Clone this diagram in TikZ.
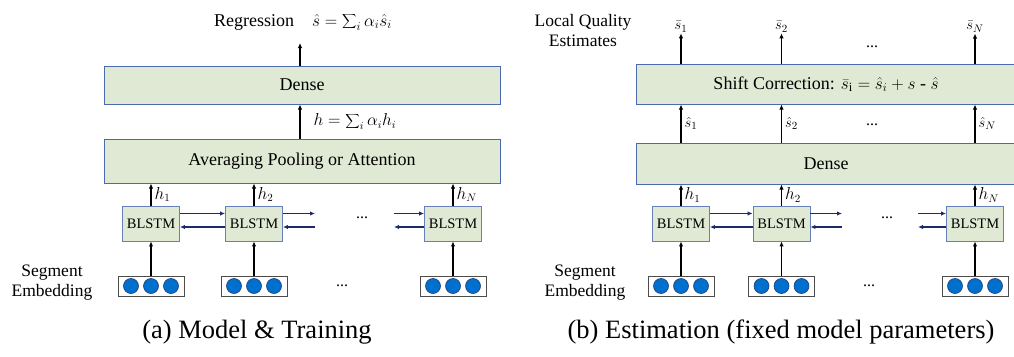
\documentclass[tikz,border=0pt]{standalone}
\usepackage{fontspec}
\setmainfont{Liberation Serif}
\usetikzlibrary{arrows.meta}
\definecolor{boxfill}{RGB}{224,233,212}
\definecolor{boxline}{RGB}{76,106,176}
\definecolor{dotfill}{RGB}{0,112,206}
\definecolor{dotline}{RGB}{30,58,118}
\definecolor{recline}{RGB}{28,42,108}
\tikzset{
	layer/.style={draw=boxline, fill=boxfill, line width=1pt, inner sep=0pt, font=\fontsize{18}{20}\selectfont},
	cell/.style={draw=boxline!85, fill=boxfill, line width=0.9pt, minimum width=57pt, minimum height=35pt, inner sep=0pt, font=\fontsize{14.5}{17}\selectfont},
	embbox/.style={draw=black!70, fill=white, line width=0.8pt, minimum width=66pt, minimum height=20pt, inner sep=0pt},
	up/.style={-{Latex[length=5pt,width=4.5pt]}, line width=1.4pt},
	rec/.style={-{Latex[length=5pt,width=4.5pt]}, line width=1.3pt, draw=recline},
	lbl/.style={font=\fontsize{16}{18}\selectfont, inner sep=1pt},
	txt/.style={font=\fontsize{17.5}{20}\selectfont, align=center, inner sep=0pt},
	subcap/.style={font=\fontsize{26.5}{28}\selectfont, inner sep=0pt},
}
\newcommand\embdots[1]{\foreach \dx in {-20,0,20} \draw[fill=dotfill, draw=dotline, line width=0.6pt] ([xshift=\dx pt]#1.center) circle (7.5pt);}

\begin{document}
\begin{tikzpicture}[x=1pt, y=-1pt]
		\useasboundingbox (0,0) rectangle (1014,356);
		%%%%% (a) MODEL & TRAINING %%%%%
		\node[layer, minimum width=396pt, minimum height=38pt] (dnsA) at (302,85) {Dense};
		\node[layer, minimum width=396pt, minimum height=44pt] (poolA) at (302,161) {Averaging Pooling or Attention};
		\node[txt, font=\fontsize{18}{20}\selectfont] (regA) at (303,22) {Regression\quad $\displaystyle\hat{s}=\sum\nolimits_i\alpha_i\hat{s}_i$};
		\coordinate (outA) at (300,43);
		\draw[up] (dnsA.north -| outA) -- (outA);
		\draw[up] (poolA.north -| outA) -- (dnsA.south -| outA) node[midway, right=12pt, lbl] {$\displaystyle h=\sum\nolimits_i\alpha_i h_i$};
		
		\node[cell] (lsA1) at (151,223.5) {BLSTM};
		\node[cell] (lsA2) at (254,223.5) {BLSTM};
		\node[cell] (lsA3) at (453,223.5) {BLSTM};
		\node[embbox] (emA1) at (151,286) {};
		\node[embbox] (emA2) at (254,286) {};
		\node[embbox] (emA3) at (453,286) {};
		\foreach \i/\s in {1/1,2/2,3/N} {
			\draw[up, line width=1.1pt] (emA\i.north) -- (lsA\i.south);
			\draw[up] (lsA\i.north) -- (lsA\i.north |- poolA.south) node[midway, right=2pt, lbl] {$h_\s$};
			\embdots{emA\i}
		}
		
		\coordinate (fwA1) at (315,213.5);
		\coordinate (bwA1) at (315,227);
		\coordinate (fwA2) at (394,213.5);
		\coordinate (bwA2) at (394,227);
		\draw[rec] ([yshift=10pt]lsA1.east) -- ([yshift=10pt]lsA2.west);
		\draw[rec] ([yshift=-3.5pt]lsA2.west) -- ([yshift=-3.5pt]lsA1.east);
		\draw[rec] ([yshift=10pt]lsA2.east) -- (fwA1);
		\draw[rec] (bwA1) -- ([yshift=-3.5pt]lsA2.east);
		\draw[rec] (fwA2) -- ([yshift=10pt]lsA3.west);
		\draw[rec] ([yshift=-3.5pt]lsA3.west) -- (bwA2);
		
		\node[lbl] (dtA1) at (362,218) {...};
		\node[lbl] (dtA2) at (342,286) {...};
		\node[txt] (segA) at (52,283) {Segment\\Embedding};
		\node[subcap] (capA) at (257,332) {(a) Model \& Training};
		
		%%%%% (b) ESTIMATION %%%%%
		\node[layer, minimum width=380pt, minimum height=40pt] (shfB) at (826,84) {Shift Correction: $\bar{s}_{\mathrm{i}}=\hat{s}_i+s$ - $\hat{s}$};
		\node[layer, minimum width=380pt, minimum height=41pt] (dnsB) at (826,163.5) {Dense};
		
		\node[cell] (lsB1) at (681,223.5) {BLSTM};
		\node[cell] (lsB2) at (781.5,223.5) {BLSTM};
		\node[cell] (lsB3) at (975,223.5) {BLSTM};
		\node[embbox] (emB1) at (681,286) {};
		\node[embbox] (emB2) at (781.5,286) {};
		\node[embbox] (emB3) at (975,286) {};
		\node[lbl, font=\fontsize{15}{16}\selectfont] (sbB1) at (681,27) {$\bar{s}_1$};
		\node[lbl, font=\fontsize{15}{16}\selectfont] (sbB2) at (781.5,27) {$\bar{s}_2$};
		\node[lbl, font=\fontsize{15}{16}\selectfont] (sbB3) at (975,27) {$\bar{s}_N$};
		\foreach \i/\s in {1/1,2/2,3/N} {
			\draw[up, line width=1.1pt] (emB\i.north) -- (lsB\i.south);
			\draw[up] (lsB\i.north) -- (lsB\i.north |- dnsB.south) node[midway, right=2pt, lbl] {$h_\s$};
			\draw[up] (dnsB.north -| lsB\i) -- (shfB.south -| lsB\i) node[midway, right=2pt, lbl, font=\fontsize{15}{16}\selectfont] {$\hat{s}_\s$};
			\draw[up] (shfB.north -| sbB\i) -- (sbB\i.south);
			\embdots{emB\i}
		}
		
		\coordinate (fwB1) at (842,213.5);
		\coordinate (bwB1) at (842,227);
		\coordinate (fwB2) at (918,213.5);
		\coordinate (bwB2) at (918,227);
		\draw[rec] ([yshift=10pt]lsB1.east) -- ([yshift=10pt]lsB2.west);
		\draw[rec] ([yshift=-3.5pt]lsB2.west) -- ([yshift=-3.5pt]lsB1.east);
		\draw[rec] ([yshift=10pt]lsB2.east) -- (fwB1);
		\draw[rec] (bwB1) -- ([yshift=-3.5pt]lsB2.east);
		\draw[rec] (fwB2) -- ([yshift=10pt]lsB3.west);
		\draw[rec] ([yshift=-3.5pt]lsB3.west) -- (bwB2);
		
		\node[lbl] (dtB1) at (872,47) {...};
		\node[lbl] (dtB2) at (872,125) {...};
		\node[lbl] (dtB3) at (887,218) {...};
		\node[lbl] (dtB4) at (869,286) {...};
		\node[txt] (lqeB) at (583,31) {Local Quality\\Estimates};
		\node[txt] (segB) at (585,283) {Segment\\Embedding};
		\node[subcap] (capB) at (781,332) {(b) Estimation (fixed model parameters)};
	\end{tikzpicture}
\end{document}
